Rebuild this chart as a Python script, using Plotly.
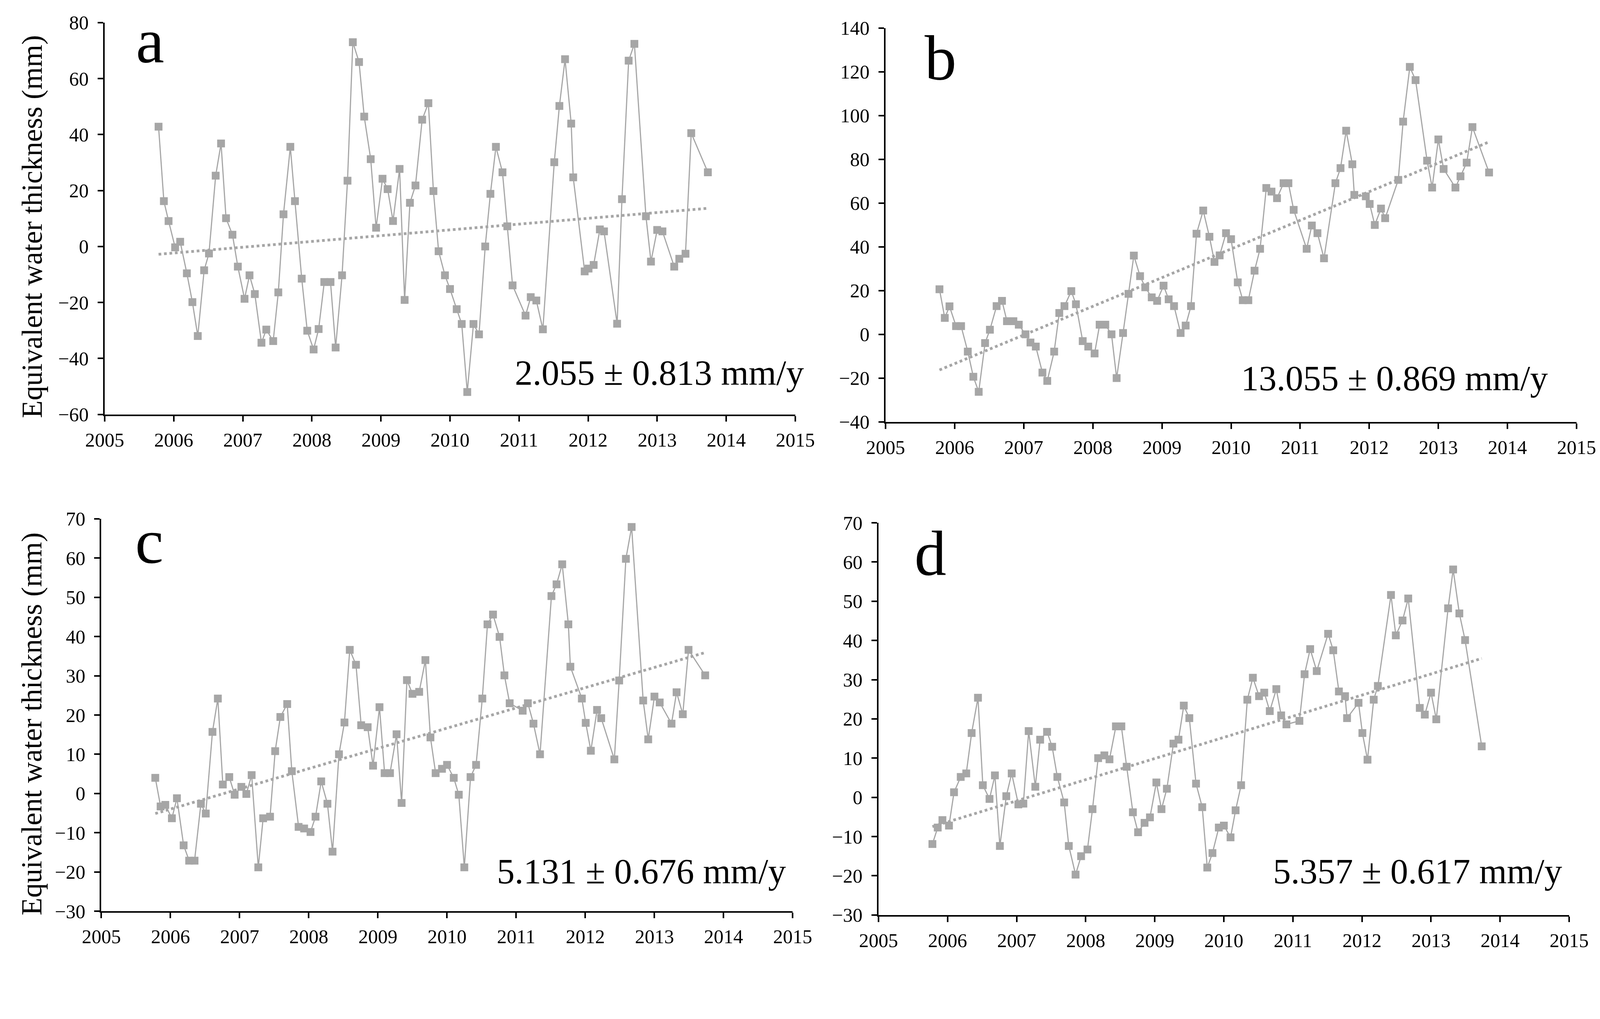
import numpy as np
import plotly.graph_objects as go

# Decimal-year time stamps (monthly GRACE solutions)
t = [2005.78, 2005.857, 2005.925,
     2006.02, 2006.093, 2006.19, 2006.27, 2006.348, 2006.44, 2006.51, 2006.607, 2006.685, 2006.757, 2006.85, 2006.928,
     2007.025, 2007.097, 2007.174, 2007.27, 2007.34, 2007.44, 2007.514, 2007.589, 2007.688, 2007.755, 2007.853, 2007.933,
     2008.025, 2008.098, 2008.18, 2008.27, 2008.344, 2008.437, 2008.516, 2008.593, 2008.683, 2008.758, 2008.852, 2008.93,
     2009.023, 2009.097, 2009.175, 2009.27, 2009.343, 2009.42, 2009.50, 2009.597, 2009.687, 2009.76, 2009.835, 2009.927,
     2010.0, 2010.097, 2010.17, 2010.25, 2010.34, 2010.42, 2010.51, 2010.585, 2010.665, 2010.76, 2010.83, 2010.906,
     2011.094, 2011.169, 2011.25, 2011.345, 2011.51, 2011.584, 2011.666, 2011.755, 2011.784, 2011.95,
     2012.006, 2012.08, 2012.17, 2012.23, 2012.42, 2012.49, 2012.587, 2012.67, 2012.837, 2012.91,
     2013.0, 2013.076, 2013.247, 2013.32, 2013.41, 2013.493, 2013.734]

ewt_a = [42.8, 16.2, 9.1,
         -0.3, 1.7, -9.6, -19.9, -32, -8.5, -2.5, 25.3, 36.8, 10.1, 4.2, -7.2,
         -18.7, -10.3, -17, -34.4, -29.7, -33.8, -16.4, 11.5, 35.6, 16.2, -11.5, -30.1,
         -36.8, -29.5, -12.7, -12.7, -36.1, -10.3, 23.5, 73, 65.9, 46.4, 31.2, 6.7,
         24.2, 20.5, 9.1, 27.7, -19.1, 15.6, 21.8, 45.3, 51.2, 19.8, -1.7, -10.3,
         -15.2, -22.4, -27.7, -52, -27.7, -31.4, 0, 18.8, 35.6, 26.5, 7.2, -13.9,
         -24.7, -18.1, -19.3, -29.6, 30.1, 50.2, 66.9, 43.9, 24.7, -8.9,
         -7.9, -6.6, 6.1, 5.4, -27.6, 16.9, 66.4, 72.4, 10.8, -5.4,
         5.9, 5.4, -7.2, -4.4, -2.6, 40.5, 26.5]

ewt_b = [20.6, 7.5, 12.8,
         3.75, 3.75, -7.9, -19.4, -26.3, -4, 2.1, 12.9, 15.3, 6, 6, 4.4,
         0, -3.75, -5.6, -17.5, -21.3, -7.9, 9.75, 12.9, 19.75, 13.75, -3.1, -5.6,
         -8.75, 4.4, 4.4, 0, -20, 0.6, 18.5, 36, 26.6, 21.5, 16.9, 15.3,
         22.25, 16, 12.9, 0.6, 4, 12.9, 46, 56.6, 44.6, 33.1, 36.1, 46.25,
         43.5, 23.75, 15.6, 15.6, 29.1, 39.1, 66.9, 65.25, 62.25, 69.1, 69.1, 56.9,
         39.1, 49.75, 46.25, 34.75, 69.1, 76, 93.1, 77.75, 63.75, 63.1,
         59.6, 50, 57.5, 53.1, 70.6, 97.25, 122.25, 116.25, 79.4, 67.1,
         89.1, 75.6, 67.1, 72.25, 78.5, 94.75, 74]

ewt_c = [4.0, -3.3, -2.9,
         -6.3, -1.2, -13.2, -17.1, -17.1, -2.6, -5.1, 15.7, 24.2, 2.3, 4.2, -0.3,
         1.7, -0.1, 4.7, -18.8, -6.3, -5.9, 10.8, 19.5, 22.8, 5.7, -8.5, -8.9,
         -9.8, -5.9, 3.1, -2.6, -14.8, 10.0, 18.1, 36.6, 32.8, 17.4, 16.9, 7.1,
         22.0, 5.2, 5.2, 15.1, -2.4, 28.9, 25.4, 25.9, 34.0, 14.3, 5.2, 6.3,
         7.3, 4.0, -0.3, -18.8, 4.2, 7.3, 24.2, 43.1, 45.6, 39.9, 30.1, 23.0,
         21.1, 23.0, 17.8, 10.0, 50.3, 53.3, 58.4, 43.1, 32.3, 24.2,
         18.0, 10.9, 21.3, 19.2, 8.7, 28.8, 59.8, 67.9, 23.7, 13.8,
         24.7, 23.2, 17.8, 25.8, 20.2, 36.6, 30.1]

ewt_d = [-11.9, -7.7, -5.8,
         -7.2, 1.3, 5.2, 6.1, 16.4, 25.4, 3.1, -0.4, 5.6, -12.4, 0.3, 6.1,
         -1.8, -1.6, 16.9, 2.7, 14.7, 16.7, 12.9, 5.2, -1.3, -12.4, -19.7, -15.0,
         -13.3, -3.0, 10.0, 10.7, 9.7, 18.1, 18.1, 7.8, -3.8, -8.9, -6.5, -5.1,
         3.8, -3.0, 2.2, 13.7, 14.7, 23.4, 20.2, 3.5, -2.5, -17.9, -14.2, -7.7,
         -7.2, -10.2, -3.3, 3.1, 24.9, 30.5, 25.8, 26.7, 22.0, 27.6, 20.9, 18.6,
         19.5, 31.4, 37.8, 32.2, 41.7, 37.5, 27.0, 25.8, 20.2, 24.1,
         16.4, 9.6, 24.9, 28.4, 51.6, 41.3, 45.1, 50.7, 22.8, 21.1,
         26.7, 19.9, 48.2, 58.1, 46.9, 40.1, 13.0]

panel_letters = ["a", "b", "c", "d"]
rate_labels = ["2.055 ± 0.813 mm/y", "13.055 ± 0.869 mm/y",
               "5.131 ± 0.676 mm/y", "5.357 ± 0.617 mm/y"]
y_ranges = [(-60, 80, 20), (-40, 140, 20), (-30, 70, 10), (-30, 70, 10)]
x_range = (2005, 2015, 1)
y_title = "Equivalent water thickness (mm)"

series = [ewt_a, ewt_b, ewt_c, ewt_d]

# ---- geometry: positions measured on the reference picture (pixels) ----
W, H = 4090, 2450          # figure size (CSS px)
M = 1.056                  # observed screen magnification
PAD = 8                    # page body margin


def fx(X):
    return (X / M - PAD) / W


def fy(Y):
    return 1 - (Y / M - PAD) / H


# plot boxes: (left, right, top, bottom) in reference pixels
boxes = [(283, 2150, 61, 1120), (2394, 4262, 76, 1140),
         (274, 2143, 1402, 2463), (2375, 4242, 1413, 2473)]
letter_px = [(365, 110), (2497, 156), (363, 1463), (2470, 1495)]
rate_px = [(2176, 1008), (4187, 1023), (2128, 2355), (4226, 2355)]
ytitle_px = [(86, 612), (86, 1956)]

GRAY = "#a6a6a6"
FONT = "Liberation Serif"

fig = go.Figure()
layout = dict(width=W, height=H, margin=dict(l=0, r=0, t=0, b=0),
              paper_bgcolor="white", plot_bgcolor="white", showlegend=False,
              font=dict(family=FONT, color="black"))
annotations = []

tt = np.array(t)
for i, y in enumerate(series):
    n = i + 1
    xa = "x" if n == 1 else f"x{n}"
    ya = "y" if n == 1 else f"y{n}"
    fig.add_trace(go.Scatter(x=t, y=y, mode="lines+markers", xaxis=xa, yaxis=ya,
                             line=dict(color=GRAY, width=3),
                             marker=dict(symbol="square", size=20, color=GRAY)))
    k, b = np.polyfit(tt, np.array(y), 1)
    xt = [t[0], t[-1]]
    fig.add_trace(go.Scatter(x=xt, y=[k * v + b for v in xt], mode="lines",
                             xaxis=xa, yaxis=ya,
                             line=dict(color=GRAY, width=7, dash="dot")))
    axis_common = dict(showline=True, linecolor="black", linewidth=4,
                       ticks="outside", ticklen=14, tickwidth=4, tickcolor="black",
                       showgrid=False, zeroline=False, automargin=False,
                       tickfont=dict(family=FONT, size=50, color="black"))
    lo, hi, step = y_ranges[i]
    L, R, T, B = boxes[i]
    layout["xaxis" if n == 1 else f"xaxis{n}"] = dict(
        domain=[fx(L), fx(R)], anchor=ya, range=[x_range[0], x_range[1]],
        tickmode="linear", tick0=x_range[0], dtick=x_range[2],
        ticklabelstandoff=4, **axis_common)
    layout["yaxis" if n == 1 else f"yaxis{n}"] = dict(
        domain=[fy(B), fy(T)], anchor=xa, range=[lo, hi],
        tickmode="linear", tick0=lo, dtick=step,
        ticklabelstandoff=13, **axis_common)
    annotations.append(dict(text=panel_letters[i], xref="paper", yref="paper",
                            x=fx(letter_px[i][0]), y=fy(letter_px[i][1]),
                            xanchor="left", yanchor="middle", showarrow=False,
                            font=dict(family=FONT, size=163, color="black")))
    annotations.append(dict(text=rate_labels[i], xref="paper", yref="paper",
                            x=fx(rate_px[i][0]), y=fy(rate_px[i][1]),
                            xanchor="right", yanchor="middle", showarrow=False,
                            font=dict(family=FONT, size=91, color="black")))

for (px, py) in ytitle_px:
    annotations.append(dict(text=y_title, xref="paper", yref="paper",
                            x=fx(px), y=fy(py),
                            xanchor="center", yanchor="middle", textangle=-90,
                            showarrow=False,
                            font=dict(family=FONT, size=74, color="black")))

layout["annotations"] = annotations
fig.update_layout(**layout)
fig.write_html("out.html")
